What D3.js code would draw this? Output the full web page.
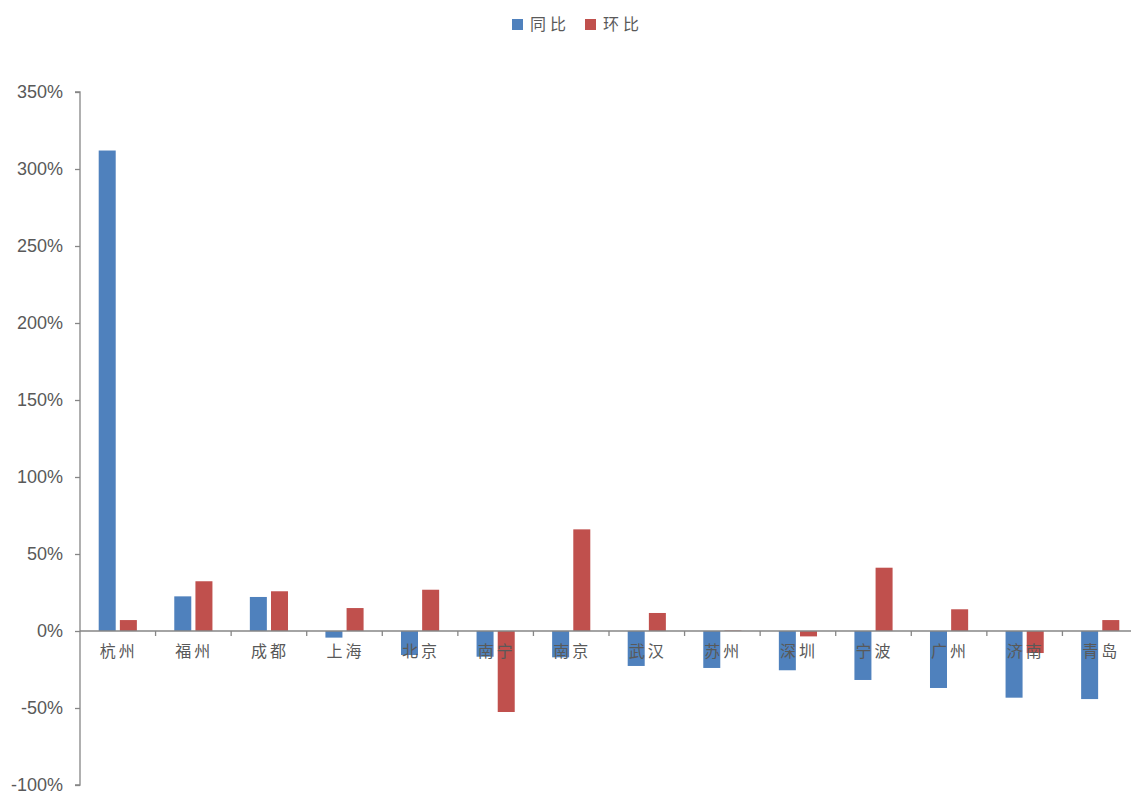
<!DOCTYPE html>
<html>
<head>
<meta charset="utf-8">
<script src="https://cdn.jsdelivr.net/npm/d3@7"></script>
<style>
  html, body { margin: 0; padding: 0; background: #ffffff; }
  svg { display: block; }
</style>
</head>
<body>
<svg id="chart" width="1131" height="791"></svg>
<script>
// City housing transaction change, year-on-year vs month-on-month (%)
const cities = ["杭州", "福州", "成都", "上海", "北京", "南宁", "南京", "武汉", "苏州", "深圳", "宁波", "广州", "济南", "青岛"];
const yoy = [312, 22.5, 22.1, -4.3, -15.6, -16.7, -17.1, -22.7, -24.0, -25.5, -31.8, -37.0, -43.3, -44.2];
const mom = [7.1, 32.3, 25.8, 14.9, 26.8, -52.6, 66.0, 11.7, 0.3, -3.5, 41.1, 14.1, -14.3, 7.1];
const seriesNames = ["同比", "环比"];
const seriesColors = ["#4F81BD", "#C0504D"];
const yTicks = [-100, -50, 0, 50, 100, 150, 200, 250, 300, 350];

const svg = d3.select("#chart");
const plot = { left: 80, right: 1138, top: 92, bottom: 785 };

const x = d3.scaleBand().domain(cities).range([plot.left, plot.right]).padding(0);
const y = d3.scaleLinear().domain([-100, 350]).range([plot.bottom, plot.top]);

const barW = x.bandwidth() * 0.225;
const barGap = x.bandwidth() * 0.055;
const inner = d3.scaleOrdinal().domain(seriesNames)
  .range([x.bandwidth() / 2 - barGap / 2 - barW, x.bandwidth() / 2 + barGap / 2]);

const rows = cities.map((c, i) => ({ city: c, values: [yoy[i], mom[i]] }));

// Bars
const groups = svg.append("g").selectAll("g").data(rows).join("g")
  .attr("transform", d => `translate(${x(d.city)},0)`);
groups.selectAll("rect")
  .data(d => d.values.map((v, k) => ({ v, k })))
  .join("rect")
  .attr("x", d => inner(seriesNames[d.k]))
  .attr("width", barW)
  .attr("y", d => y(Math.max(0, d.v)))
  .attr("height", d => Math.abs(y(d.v) - y(0)))
  .attr("fill", d => seriesColors[d.k]);

// Y axis
const yAxis = d3.axisLeft(y).tickValues(yTicks).tickSize(5).tickPadding(12)
  .tickFormat(d => d + "%");
const gy = svg.append("g").attr("transform", `translate(${plot.left},0)`).call(yAxis);
gy.select(".domain").attr("stroke", "#868686").attr("stroke-width", 1.3)
  .attr("d", `M-5,${plot.top}H0V${plot.bottom}H-5`);
gy.selectAll(".tick line").attr("stroke", "#868686").attr("stroke-width", 1.3);
gy.selectAll(".tick text")
  .attr("fill", "#595959")
  .style("font-family", "'Liberation Sans', Arial, sans-serif")
  .style("font-size", "18px");

// Zero baseline with category ticks at band edges
const gx = svg.append("g").attr("transform", `translate(0,${y(0)})`);
gx.append("line").attr("x1", plot.left).attr("x2", plot.right)
  .attr("stroke", "#868686").attr("stroke-width", 1.5);
gx.selectAll("line.tk").data(cities.slice(1)).join("line").attr("class", "tk")
  .attr("x1", d => x(d)).attr("x2", d => x(d))
  .attr("y1", 0).attr("y2", 5)
  .attr("stroke", "#868686").attr("stroke-width", 1.3);

// Category labels
svg.append("g").selectAll("text").data(cities).join("text")
  .attr("x", d => x(d) + x.bandwidth() / 2 + 1)
  .attr("y", y(0) + 26)
  .attr("text-anchor", "middle")
  .attr("fill", "#595959")
  .style("font-family", "'Noto Sans CJK SC', sans-serif")
  .style("font-size", "16px")
  .style("letter-spacing", "3px")
  .text(d => d);

// Legend
const legend = svg.append("g");
const legendX = [512, 585];
seriesNames.forEach((name, k) => {
  legend.append("rect").attr("x", legendX[k]).attr("y", 19).attr("width", 11).attr("height", 11)
    .attr("fill", seriesColors[k]);
  legend.append("text").attr("x", legendX[k] + 18).attr("y", 30)
    .attr("fill", "#595959")
    .style("font-family", "'Noto Sans CJK SC', sans-serif")
    .style("font-size", "16px")
    .style("letter-spacing", "4px")
    .text(name);
});
</script>
</body>
</html>
